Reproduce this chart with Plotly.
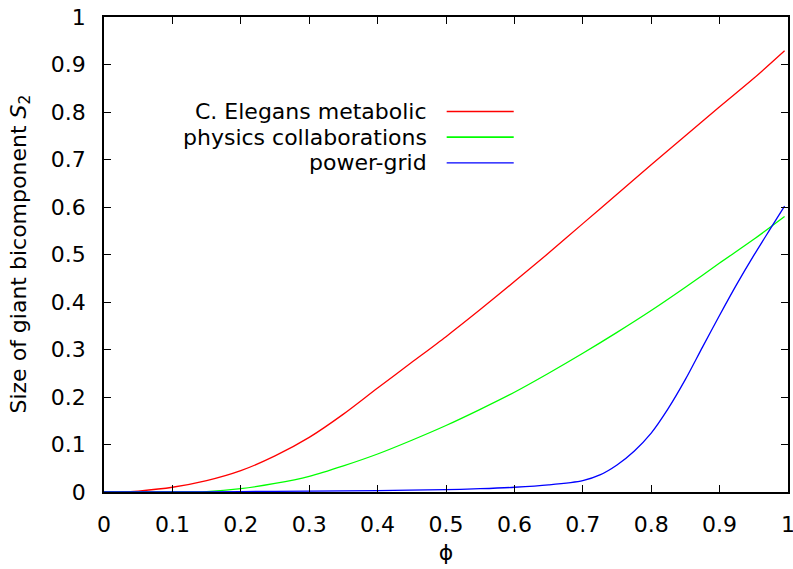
import plotly.graph_objects as go

# Fraction of vertices kept (phi) and size of the giant bicomponent S2
phi_metabolic = [0.0, 0.03, 0.05, 0.1, 0.15, 0.2, 0.25, 0.3, 0.35, 0.4, 0.45, 0.5,
                 0.55, 0.6, 0.65, 0.7, 0.75, 0.8, 0.85, 0.9, 0.95, 0.995]
s2_metabolic = [0.0, 0.0, 0.002, 0.010, 0.024, 0.045, 0.076, 0.115, 0.164, 0.219, 0.273, 0.327,
                0.384, 0.443, 0.503, 0.565, 0.627, 0.689, 0.750, 0.811, 0.871, 0.929]

phi_physics = [0.0, 0.1, 0.15, 0.2, 0.25, 0.3, 0.35, 0.4, 0.45, 0.5, 0.55, 0.6,
               0.65, 0.7, 0.75, 0.8, 0.85, 0.9, 0.95, 0.995]
s2_physics = [0.0, 0.0, 0.001, 0.007, 0.018, 0.033, 0.055, 0.080, 0.109, 0.140, 0.174, 0.210,
              0.250, 0.292, 0.336, 0.382, 0.431, 0.482, 0.532, 0.580]

phi_power = [0.0, 0.1, 0.2, 0.3, 0.4, 0.5, 0.55, 0.6, 0.65, 0.7, 0.725, 0.75,
             0.775, 0.8, 0.825, 0.85, 0.875, 0.9, 0.925, 0.95, 0.975, 0.995]
s2_power = [0.0, 0.0, 0.001, 0.002, 0.003, 0.005, 0.007, 0.010, 0.015, 0.024, 0.036, 0.057,
            0.086, 0.124, 0.176, 0.237, 0.305, 0.372, 0.437, 0.498, 0.556, 0.602]

series_names = ["C. Elegans metabolic", "physics collaborations", "power-grid"]
series_colors = ["#ff0000", "#00ff00", "#0000ff"]

x_ticks = [0, 0.1, 0.2, 0.3, 0.4, 0.5, 0.6, 0.7, 0.8, 0.9, 1]
x_tick_text = ["0", "0.1", "0.2", "0.3", "0.4", "0.5", "0.6", "0.7", "0.8", "0.9", "1"]
y_ticks = x_ticks
y_tick_text = x_tick_text

FONT = "DejaVu Sans, Liberation Sans, Arial, sans-serif"
FS = 22

fig = go.Figure()
for xs, ys, name, color in zip([phi_metabolic, phi_physics, phi_power],
                               [s2_metabolic, s2_physics, s2_power],
                               series_names, series_colors):
    fig.add_trace(go.Scatter(x=xs, y=ys, mode="lines", name=name,
                             line=dict(color=color, width=1.3, shape="spline", smoothing=0.8),
                             showlegend=False))

# gnuplot-style key: right-aligned labels with line samples to their right
key_y = [0.801, 0.747, 0.693]
for name, color, ky in zip(series_names, series_colors, key_y):
    fig.add_annotation(x=0.475, y=ky, xref="x", yref="y", text=name, showarrow=False,
                       xanchor="right", yanchor="middle",
                       font=dict(family=FONT, size=FS, color="black"))
    fig.add_shape(type="line", x0=0.501, x1=0.599, y0=ky, y1=ky, xref="x", yref="y",
                  line=dict(color=color, width=1.3 if color != "#00ff00" else 1.8))

# y-axis label placed as a rotated annotation to the left of the tick labels
fig.add_annotation(x=0, y=0.5, xref="paper", yref="paper", xanchor="center", yanchor="middle",
                   xshift=-84, textangle=-90, showarrow=False,
                   text="Size of giant bicomponent <i>S</i><sub>2</sub>",
                   font=dict(family=FONT, size=FS, color="black"))

axis_common = dict(range=[0, 1], showgrid=False, zeroline=False, showline=True,
                   linecolor="black", linewidth=1.5, mirror="allticks",
                   ticks="inside", ticklen=7, tickwidth=1, tickcolor="black",
                   ticklabeloverflow="allow",
                   tickfont=dict(family=FONT, size=FS, color="black"))

fig.update_xaxes(**axis_common, tickvals=x_ticks, ticktext=x_tick_text,
                 ticklabelstandoff=12,
                 title=dict(text="ϕ", font=dict(family=FONT, size=FS, color="black"),
                            standoff=8))
fig.update_yaxes(**axis_common, tickvals=y_ticks, ticktext=y_tick_text,
                 ticklabelstandoff=12)

fig.update_layout(width=793, height=569,
                  margin=dict(l=104, r=5, t=17, b=77, autoexpand=False),
                  paper_bgcolor="white", plot_bgcolor="white",
                  font=dict(family=FONT, size=FS, color="black"))

fig.write_html("out.html")
